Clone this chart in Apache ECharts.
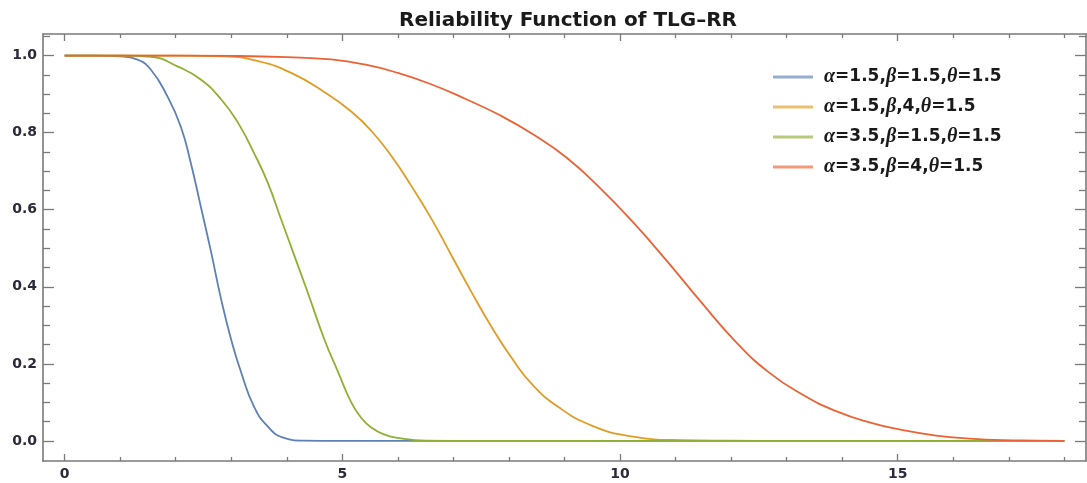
<!DOCTYPE html>
<html>
<head>
<meta charset="utf-8">
<script src="https://cdn.jsdelivr.net/npm/echarts@6/dist/echarts.min.js"></script>
<style>
  html, body { margin: 0; padding: 0; background: #fff; }
  #chart { width: 1087px; height: 483px; }
</style>
</head>
<body>
<div id="chart"></div>
<script>
// ---- Data ----
const seriesNames = [
  'α=1.5,β=1.5,θ=1.5',
  'α=1.5,β,4,θ=1.5',
  'α=3.5,β=1.5,θ=1.5',
  'α=3.5,β=4,θ=1.5'
];
const seriesColors = ['#5E81B5', '#E19C24', '#8FB032', '#EB6235'];

const blueX = [0, 0.5, 1.0, 1.3, 1.55, 1.85, 2.09, 2.27, 2.45, 2.64, 2.82, 3.0, 3.18, 3.41, 3.66, 3.95, 4.3, 5, 6, 8, 10, 12, 14, 16, 18];
const blueY = [1, 1, 0.998, 0.99, 0.964, 0.894, 0.816, 0.722, 0.609, 0.488, 0.366, 0.262, 0.177, 0.089, 0.037, 0.008, 0.001, 0, 0, 0, 0, 0, 0, 0, 0];

const orangeX = [0, 1, 2, 2.87, 3.5, 4.08, 4.68, 5.16, 5.52, 5.88, 6.25, 6.61, 6.97, 7.33, 7.69, 8.05, 8.41, 8.89, 9.49, 10.2, 11.1, 12, 13, 14, 16, 18];
const orangeY = [1, 1, 1, 0.998, 0.985, 0.955, 0.905, 0.855, 0.805, 0.74, 0.66, 0.575, 0.48, 0.385, 0.295, 0.215, 0.148, 0.088, 0.04, 0.012, 0.002, 0.0005, 0, 0, 0, 0];

const greenX = [0, 0.5, 1, 1.55, 2.03, 2.45, 2.82, 3.12, 3.41, 3.66, 3.9, 4.14, 4.38, 4.68, 4.92, 5.16, 5.34, 5.52, 5.75, 6.0, 6.5, 7.5, 9, 11, 13, 15, 18];
const greenY = [1, 1, 1, 0.997, 0.972, 0.938, 0.886, 0.826, 0.747, 0.669, 0.574, 0.479, 0.384, 0.262, 0.18, 0.1, 0.06, 0.035, 0.017, 0.008, 0.001, 0, 0, 0, 0, 0, 0];

const redX = [0, 1.5, 3, 4, 4.8, 5.4, 6.0, 6.61, 7.21, 7.84, 8.44, 9.04, 9.65, 10.25, 10.85, 11.45, 12.08, 12.68, 13.29, 13.88, 14.49, 15.09, 15.69, 16.29, 16.9, 17.5, 18];
const redY = [1, 1, 0.999, 0.996, 0.99, 0.977, 0.955, 0.925, 0.888, 0.845, 0.795, 0.735, 0.655, 0.565, 0.466, 0.362, 0.258, 0.178, 0.12, 0.078, 0.048, 0.028, 0.014, 0.006, 0.002, 0.001, 0];

const xMajorTicks = [0, 5, 10, 15];
const xMinorTicks = [1, 2, 3, 4, 6, 7, 8, 9, 11, 12, 13, 14, 16, 17, 18];
const yMajorTicks = [0, 0.2, 0.4, 0.6, 0.8, 1.0];
const yMinorTicks = [0.05, 0.1, 0.15, 0.25, 0.3, 0.35, 0.45, 0.5, 0.55, 0.65, 0.7, 0.75, 0.85, 0.9, 0.95, 1.05];

const titleText = 'Reliability Function of TLG–RR';

// ---- Build chart ----
const xs = [blueX, orangeX, greenX, redX];
const ys = [blueY, orangeY, greenY, redY];
const zip = (a, b) => a.map((v, i) => [v, b[i]]);

const X_MIN = -0.39, X_MAX = 18.39;
const Y_MIN = -0.052, Y_MAX = 1.056;
const frameColor = '#7a7a7a';
const labelStyle = { color: '#2a2a3a', fontSize: 14, fontWeight: 'bold', fontFamily: 'DejaVu Sans' };

function xAxisDef(position, ticks, len, showLine, showLabel) {
  return {
    type: 'value', min: X_MIN, max: X_MAX, position: position,
    splitLine: { show: false },
    axisLine: { show: showLine, onZero: false, lineStyle: { color: frameColor, width: 1.6 } },
    axisTick: { show: true, inside: true, length: len, customValues: ticks, lineStyle: { color: frameColor, width: 1.3 } },
    axisLabel: Object.assign({ show: showLabel, customValues: ticks, margin: 6, formatter: v => String(v) }, labelStyle)
  };
}
function yAxisDef(position, ticks, len, showLine, showLabel) {
  return {
    type: 'value', min: Y_MIN, max: Y_MAX, position: position,
    splitLine: { show: false },
    axisLine: { show: showLine, onZero: false, lineStyle: { color: frameColor, width: 1.6 } },
    axisTick: { show: true, inside: true, length: len, customValues: ticks, lineStyle: { color: frameColor, width: 1.3 } },
    axisLabel: Object.assign({ show: showLabel, customValues: ticks, margin: 6, formatter: v => v.toFixed(1) }, labelStyle)
  };
}

const chart = echarts.init(document.getElementById('chart'), null, { renderer: 'canvas' });
chart.setOption({
  backgroundColor: '#ffffff',
  animation: false,
  title: {
    text: titleText,
    left: 563, textAlign: 'center', top: 6,
    textStyle: { fontFamily: 'DejaVu Sans', fontWeight: 'bold', fontSize: 20, color: '#1a1a1a' }
  },
  grid: { left: 43, right: 1, top: 34, bottom: 22 },
  legend: {
    orient: 'vertical', left: 768, top: 62,
    icon: 'rect', itemWidth: 40, itemHeight: 3, itemGap: 10,
    itemStyle: { opacity: 0.65 },
    data: seriesNames,
    formatter: name => name.replace(/([αβθ])/g, '{g|$1}'),
    textStyle: {
      fontFamily: 'DejaVu Sans', fontWeight: 'bold', fontSize: 17, color: '#1a1a1a',
      lineHeight: 20, padding: [0, 0, 0, 6],
      rich: {
        g: { fontFamily: 'Liberation Serif', fontStyle: 'italic', fontWeight: 'bold', fontSize: 20, color: '#1a1a1a', lineHeight: 20 }
      }
    }
  },
  xAxis: [
    xAxisDef('bottom', xMajorTicks, 7, true, true),
    xAxisDef('bottom', xMinorTicks, 4, false, false),
    xAxisDef('top', xMajorTicks, 7, true, false),
    xAxisDef('top', xMinorTicks, 4, false, false)
  ],
  yAxis: [
    yAxisDef('left', yMajorTicks, 11, true, true),
    yAxisDef('left', yMinorTicks, 7, false, false),
    yAxisDef('right', yMajorTicks, 11, true, false),
    yAxisDef('right', yMinorTicks, 7, false, false)
  ],
  series: seriesNames.map((name, i) => ({
    name: name,
    type: 'line',
    xAxisIndex: 0, yAxisIndex: 0,
    data: zip(xs[i], ys[i]),
    showSymbol: false,
    smooth: 0.5,
    color: seriesColors[i],
    lineStyle: { color: seriesColors[i], width: 1.8 },
    z: 3
  }))
});
</script>
</body>
</html>
